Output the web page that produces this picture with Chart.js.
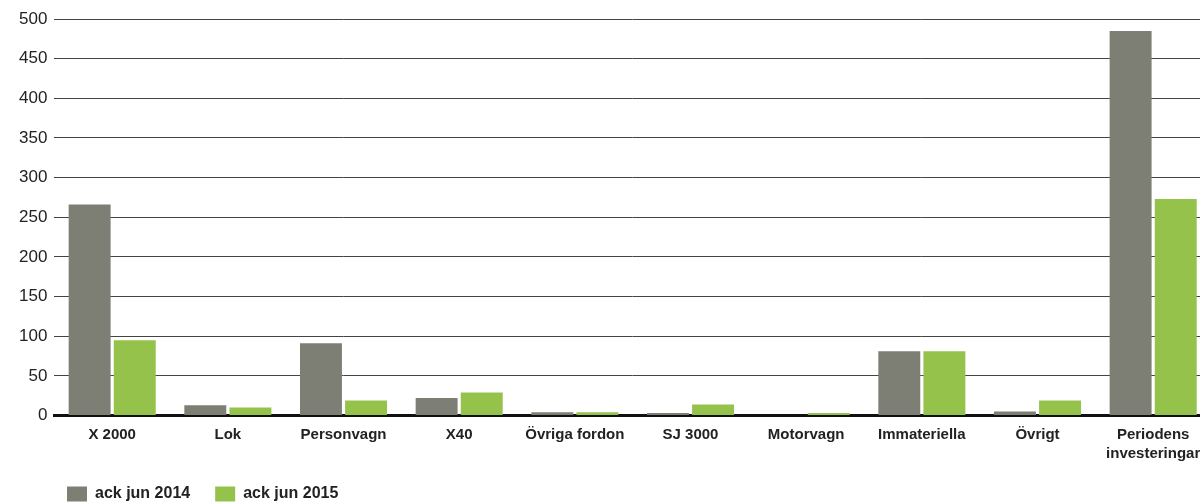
<!DOCTYPE html>
<html>
<head>
<meta charset="utf-8">
<script src="https://cdn.jsdelivr.net/npm/chart.js@4.4.1/dist/chart.umd.min.js"></script>
<style>
  html, body { margin: 0; padding: 0; background: #fff; overflow: hidden; }
  #wrap { width: 1213px; height: 503px; }
</style>
</head>
<body>
<div id="wrap"><canvas id="investChart"></canvas></div>
<script>
const categories = ['X 2000', 'Lok', 'Personvagn', 'X40', 'Övriga fordon', 'SJ 3000', 'Motorvagn', 'Immateriella', 'Övrigt', ['Periodens', 'investeringar']];
const jun2014 = [266, 13, 91, 22, 4, 3, 0, 81, 5, 485];
const jun2015 = [95, 10, 19, 29, 4, 14, 3, 81, 19, 273];
const seriesNames = ['ack jun 2014', 'ack jun 2015'];
const yTicks = [0, 50, 100, 150, 200, 250, 300, 350, 400, 450, 500];

const grey = '#7e7f74';
const green = '#95c24b';
const fontFamily = '"Liberation Sans", Arial, sans-serif';

// legend sits under the first bar, with a wider gap between the two items
const legendShift = {
    id: 'legendShift',
    afterLayout(chart) {
        const lg = chart.legend;
        lg.options.labels.padding = 25;
        lg.top -= 12;
        lg.left += 30;
    }
};

new Chart(document.getElementById('investChart'), {
    type: 'bar',
    data: {
        labels: categories,
        datasets: [
            { label: seriesNames[0], data: jun2014, backgroundColor: grey },
            { label: seriesNames[1], data: jun2015, backgroundColor: green }
        ]
    },
    options: {
        responsive: true,
        maintainAspectRatio: false,
        animation: false,
        categoryPercentage: 0.78,
        barPercentage: 0.93,
        layout: { padding: { top: 19, left: 12, right: 2, bottom: -9 } },
        plugins: {
            tooltip: { enabled: false },
            legend: {
                position: 'bottom',
                align: 'start',
                labels: {
                    boxWidth: 20,
                    boxHeight: 15,
                    padding: 13,
                    color: '#222',
                    font: { family: fontFamily, size: 16, weight: 'bold' }
                }
            }
        },
        scales: {
            x: {
                grid: { display: false, drawTicks: false },
                border: { display: true, color: '#111', width: 3 },
                ticks: {
                    color: '#222',
                    padding: 10,
                    maxRotation: 0,
                    autoSkip: false,
                    font: { family: fontFamily, size: 15, weight: 'bold', lineHeight: 1.25 }
                }
            },
            y: {
                min: 0,
                max: 500,
                afterBuildTicks(axis) {
                    axis.ticks = yTicks.map(v => ({ value: v }));
                },
                grid: { color: '#444', lineWidth: 1, drawTicks: false },
                border: { display: false },
                ticks: {
                    color: '#222',
                    padding: 7,
                    font: { family: fontFamily, size: 17 }
                }
            }
        }
    },
    plugins: [legendShift]
});
</script>
</body>
</html>
